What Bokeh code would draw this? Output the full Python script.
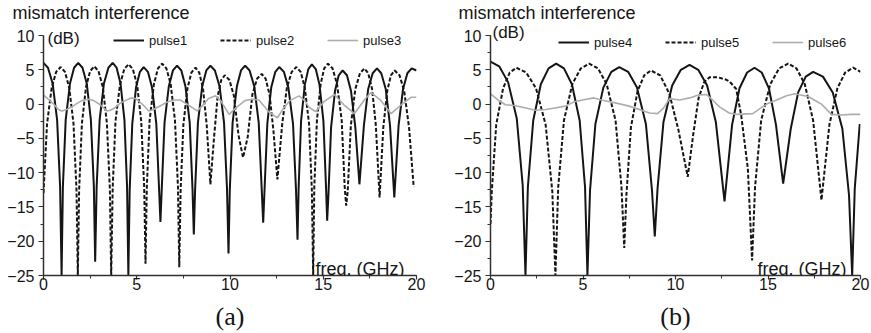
from bokeh.plotting import figure
from bokeh.models import Range1d, SingleIntervalTicker, Label, Legend, LegendItem
from bokeh.layouts import row
from bokeh.embed import file_html
from bokeh.resources import INLINE

# ---------------- data ----------------
PANEL_A_NAMES = ["pulse1", "pulse2", "pulse3"]
PANEL_B_NAMES = ["pulse4", "pulse5", "pulse6"]
X_TICKS = [0, 5, 10, 15, 20]
Y_TICKS = [-25, -20, -15, -10, -5, 0, 5, 10]

# panel (a) pulse1 (solid)
P1_X = [0.00, 0.24, 0.49, 0.73, 0.89, 0.97,
        1.04, 1.19, 1.42, 1.64, 1.86, 2.09, 2.32, 2.54, 2.70, 2.77,
        2.85, 3.01, 3.24, 3.48, 3.71, 3.92, 4.13, 4.34, 4.48, 4.55,
        4.62, 4.76, 4.96, 5.17, 5.37, 5.60, 5.82, 6.05, 6.20, 6.27,
        6.34, 6.49, 6.72, 6.94, 7.16, 7.39, 7.61, 7.84, 7.99, 8.06,
        8.13, 8.28, 8.51, 8.73, 8.95, 9.19, 9.44, 9.68, 9.84, 9.92,
        9.99, 10.14, 10.37, 10.59, 10.81, 11.05, 11.30, 11.54, 11.70, 11.78,
        11.85, 12.00, 12.21, 12.43, 12.64, 12.89, 13.13, 13.38, 13.54, 13.62,
        13.68, 13.81, 14.01, 14.20, 14.39, 14.60, 14.80, 15.01, 15.15, 15.21,
        15.28, 15.42, 15.63, 15.83, 16.04, 16.27, 16.49, 16.72, 16.94,
        17.18, 17.41, 17.65, 17.88, 18.11, 18.35, 18.58, 18.81,
        19.04, 19.28, 19.51, 19.74, 20.00]
P1_Y = [6.0, 5.3, 3.0, -2.3, -12.0, -25,
        -12.0, -2.3, 3.0, 5.3, 6.0, 5.3, 3.0, -2.3, -12.0, -23.0,
        -12.0, -2.3, 3.0, 5.3, 6.0, 5.3, 3.0, -2.3, -12.0, -25,
        -12.6, -2.9, 2.4, 4.7, 5.4, 4.7, 2.4, -2.9, -12.6, -17.2,
        -12.4, -2.7, 2.6, 4.9, 5.6, 4.9, 2.6, -2.7, -12.4, -19.0,
        -12.4, -2.7, 2.6, 4.9, 5.6, 4.9, 2.6, -2.7, -12.4, -21.8,
        -12.4, -2.7, 2.6, 4.9, 5.6, 4.9, 2.6, -2.7, -12.4, -17.3,
        -12.6, -2.9, 2.4, 4.7, 5.4, 4.7, 2.4, -2.9, -12.6, -19.8,
        -12.2, -2.5, 2.8, 5.1, 5.8, 5.1, 2.8, -2.5, -12.2, -17.0,
        -13.1, -3.4, 1.9, 4.2, 4.9, 4.2, 1.9, -3.4, -11.7,
        -3.1, 2.2, 4.5, 5.2, 4.5, 2.2, -3.1, -13.6,
        -3.1, 2.2, 4.5, 5.2, 4.9]

# panel (a) pulse2 (dashed)
P2_X = [0.00, 0.19, 0.44, 0.68, 0.92, 1.15, 1.38, 1.61, 1.77, 1.84,
        1.91, 2.06, 2.28, 2.50, 2.72, 2.95, 3.18, 3.40, 3.56, 3.63,
        3.71, 3.86, 4.10, 4.33, 4.56, 4.79, 5.02, 5.24, 5.40, 5.47,
        5.54, 5.69, 5.92, 6.14, 6.36, 6.59, 6.82, 7.05, 7.21, 7.28,
        7.35, 7.50, 7.72, 7.93, 8.15, 8.35, 8.55, 8.75, 8.95,
        9.14, 9.34, 9.53, 9.72, 9.97, 10.21, 10.46, 10.70,
        10.95, 11.20, 11.45, 11.70, 11.91, 12.12, 12.33, 12.54,
        12.80, 13.05, 13.31, 13.56, 13.79, 14.01, 14.24, 14.39, 14.46,
        14.52, 14.66, 14.86, 15.05, 15.25, 15.50, 15.74, 15.99, 16.15, 16.23,
        16.31, 16.48, 16.72, 16.97, 17.21, 17.41, 17.62, 17.82, 18.02,
        18.22, 18.43, 18.63, 18.83, 19.09, 19.34, 19.60, 19.85]
P2_Y = [-13.0, -2.9, 2.4, 4.7, 5.4, 4.7, 2.4, -2.9, -12.6, -25,
        -12.5, -2.8, 2.5, 4.8, 5.5, 4.8, 2.5, -2.8, -12.5, -25,
        -12.2, -2.5, 2.8, 5.1, 5.8, 5.1, 2.8, -2.5, -12.2, -23.3,
        -12.1, -2.4, 2.9, 5.2, 5.9, 5.2, 2.9, -2.4, -12.1, -23.8,
        -12.7, -3.0, 2.3, 4.6, 5.3, 4.6, 2.3, -3.0, -11.7,
        -5.0, 1.2, 3.5, 4.2, 3.5, 1.2, -4.6, -7.8,
        -4.8, 1.4, 3.7, 4.4, 3.7, 1.4, -3.9, -11.0,
        -2.9, 2.4, 4.7, 5.4, 4.7, 2.4, -2.9, -12.6, -25,
        -12.1, -2.4, 2.9, 5.2, 5.9, 5.2, 2.9, -2.4, -12.1, -14.8,
        -12.8, -3.1, 2.2, 4.5, 5.2, 4.5, 2.2, -3.1, -13.6,
        -3.4, 1.9, 4.2, 4.9, 4.2, 1.9, -3.4, -12.1]

# panel (a) pulse3 (grey)
P3_X = [0.0, 0.3, 0.54, 0.8, 0.98, 1.25, 1.52, 1.8, 2.05, 2.4, 2.7, 3.04, 3.4, 3.6,
        3.85, 4.1, 4.38, 4.7, 4.95, 5.3, 5.64, 5.9, 6.3, 6.63, 7.0, 7.34, 7.8, 8.24,
        8.5, 8.85, 9.22, 9.5, 9.95, 10.3, 10.8, 11.2, 11.55, 12.1, 12.54, 12.85, 13.2,
        13.7, 14.0, 14.25, 14.6, 15.06, 15.6, 16.14, 16.67, 17.2, 17.56, 18.1, 18.64,
        19.18, 19.72, 20.0]
P3_Y = [1.3, 0.6, 0.0, -0.8, -1.0, -0.8, -0.4, 0.1, 0.5, 0.7, 0.5, -0.1, -1.0, -0.9,
        -0.5, 0.1, 0.5, 0.9, 0.8, 0.0, -1.0, -0.8, -0.2, 0.3, 0.6, 0.6, -0.2, -1.0,
        -0.3, 0.8, 1.2, 0.5, -1.5, -0.6, 0.5, 0.7, 0.6, -1.2, -2.0, -0.7, 0.5,
        1.2, 0.5, -0.5, -1.1, 0.4, 1.4, -0.2, -1.4, 0.6, 1.7, 0.5, -1.4,
        -0.1, 1.0, 1.0]

# panel (b) pulse4 (solid)
P4_X = [0.00, 0.47, 0.95, 1.42, 1.74, 1.89,
        2.02, 2.31, 2.72, 3.14, 3.55, 3.97, 4.40, 4.82, 5.11, 5.24,
        5.38, 5.67, 6.10, 6.53, 6.96, 7.44, 7.92, 8.40, 8.73, 8.88,
        9.03, 9.35, 9.82, 10.29, 10.76, 11.23, 11.71, 12.18, 12.65,
        13.06, 13.46, 13.87, 14.27, 14.66, 15.05, 15.43, 15.82,
        16.23, 16.63, 17.04, 17.44, 17.97, 18.50, 19.02, 19.38, 19.55,
        19.69, 19.96]
P4_Y = [6.2, 5.5, 3.2, -2.1, -11.8, -25,
        -12.1, -2.4, 2.9, 5.2, 5.9, 5.2, 2.9, -2.4, -12.1, -25,
        -12.6, -2.9, 2.4, 4.7, 5.4, 4.7, 2.4, -2.9, -12.6, -19.3,
        -12.3, -2.6, 2.7, 5.0, 5.7, 5.0, 2.7, -2.6, -14.2,
        -3.0, 2.3, 4.6, 5.3, 4.6, 2.3, -3.0, -11.6,
        -3.6, 1.7, 4.0, 4.7, 4.0, 1.7, -3.6, -13.3, -25,
        -12.3, -2.9]

# panel (b) pulse5 (dashed)
P5_X = [0.00, 0.07, 0.31, 0.68, 1.04, 1.40, 1.93, 2.46, 2.98, 3.34, 3.51,
        3.66, 3.97, 4.42, 4.88, 5.33, 5.81, 6.28, 6.76, 7.08, 7.23,
        7.35, 7.59, 7.95, 8.31, 8.67, 9.17, 9.67, 10.16, 10.66,
        10.96, 11.25, 11.55, 11.84, 12.30, 12.70, 12.92, 13.28, 13.55, 13.91, 14.14,
        14.30, 14.63, 15.12, 15.60, 16.09, 16.54, 16.99, 17.44, 17.89,
        18.32, 18.75, 19.17, 19.60, 20.00]
P5_Y = [-17.5, -12.7, -3.0, 2.3, 4.6, 5.3, 4.6, 2.3, -3.0, -12.7, -25,
        -12.1, -2.4, 2.9, 5.2, 5.9, 5.2, 2.9, -2.4, -12.1, -21.0,
        -13.1, -3.4, 1.9, 4.2, 4.9, 4.2, 1.5, -3.8, -10.6,
        -4.4, 0.9, 3.2, 3.9, 3.9, 3.6, 3.3, 2.2, -1.6, -9.4, -22.8,
        -12.1, -2.4, 2.9, 5.2, 5.9, 5.2, 2.9, -2.4, -14.0,
        -3.0, 2.3, 4.6, 5.3, 4.7]

# panel (b) pulse6 (grey)
P6_X = [0.0, 0.4, 0.81, 1.26, 1.8, 2.4, 3.0, 3.4, 4.05, 4.5, 4.95, 5.6, 6.0, 6.5,
        6.86, 7.5, 7.95, 8.6, 9.03, 9.35, 9.68, 10.22, 10.76, 11.2, 11.66, 12.0,
        12.38, 12.9, 13.28, 14.18, 14.6, 15.0, 15.37, 16.0, 16.45, 17.17, 17.5,
        17.89, 18.43, 18.97, 19.5, 20.0]
P6_Y = [1.5, 0.6, -0.1, -0.2, -0.5, -0.9, -0.8, -0.6, -0.3, 0.3, 0.6, 0.9, 0.6, 0.3,
        0.1, -0.3, -0.7, -1.3, -1.4, -0.6, 0.8, 0.6, 0.9, 1.3, 1.4, 0.6,
        -0.4, -1.3, -1.5, -1.4, -0.6, 0.1, 0.5, 1.2, 1.5, 1.1, 0.6,
        0.0, -1.5, -1.6, -1.5, -1.5]

# ---------------- styling ----------------
SANS = "Liberation Sans"
SERIF = "Liberation Serif"
INK = "#151515"
GREY = "#adadad"
FRAME_TOP = 22          # frame reaches a little above the "10" tick
FRAME_H = 275 - FRAME_TOP
Y_TOP = 10 + (35 - FRAME_TOP) * 35.0 / 240.0   # extra room above the axis end


def add_text(p, text, x, y, font, size, align="left"):
    p.add_layout(Label(x=x, y=y, x_units="screen", y_units="screen", text=text,
                       text_font=font, text_font_size=size, text_align=align,
                       text_baseline="alphabetic", text_color=INK))


def make_panel(names, series, tag, border_left, frame_w, border_right,
               title_dx, db_xy, freq_dx, legend_loc):
    p = figure(frame_width=frame_w, frame_height=FRAME_H,
               min_border_left=border_left, min_border_right=border_right,
               min_border_top=FRAME_TOP, min_border_bottom=58,
               x_range=Range1d(0, 20), y_range=Range1d(-25, Y_TOP),
               output_backend="svg", toolbar_location=None,
               background_fill_color="white", border_fill_color="white")
    p.grid.visible = False
    p.outline_line_color = None

    p.title.text = "mismatch interference"
    p.title.text_font = SANS
    p.title.text_font_size = "18px"
    p.title.text_font_style = "normal"
    p.title.text_color = INK
    p.title.align = "left"
    p.title.offset = title_dx
    p.title.standoff = 0

    for ax in (p.xaxis[0], p.yaxis[0]):
        ax.ticker = SingleIntervalTicker(interval=5, num_minor_ticks=2)
        ax.axis_line_color = "#303030"
        ax.axis_line_width = 1.5
        ax.major_tick_line_color = "#303030"
        ax.minor_tick_line_color = "#303030"
        ax.major_tick_line_width = 1.2
        ax.major_tick_in = 0
        ax.minor_tick_in = 0
        ax.major_label_text_font = SANS
        ax.major_label_text_font_size = "16px"
        ax.major_label_text_color = INK
    p.yaxis[0].bounds = (-25, 10)
    p.xaxis[0].bounds = (0, 20)
    p.xaxis[0].major_tick_out = 4
    p.xaxis[0].minor_tick_out = 3
    p.xaxis[0].major_label_standoff = -2
    p.yaxis[0].major_tick_out = 5
    p.yaxis[0].minor_tick_out = 3
    p.yaxis[0].major_label_standoff = 4

    p.xaxis[0].axis_label = tag
    p.xaxis[0].axis_label_text_font = SERIF
    p.xaxis[0].axis_label_text_font_size = "26px"
    p.xaxis[0].axis_label_text_font_style = "normal"
    p.xaxis[0].axis_label_text_color = INK
    p.xaxis[0].axis_label_standoff = 9

    styles = [dict(line_color=INK, line_width=2.0),
              dict(line_color=INK, line_width=2.0, line_dash="4 2"),
              dict(line_color=GREY, line_width=1.6)]
    rends = []
    for (xs, ys), st in zip(series, styles):
        rends.append(p.line(xs, ys, **st))

    legend = Legend(items=[LegendItem(label=n, renderers=[r]) for n, r in zip(names, rends)],
                    location=legend_loc, orientation="horizontal",
                    glyph_width=31, glyph_height=16, label_height=16, label_width=61,
                    label_standoff=5, spacing=10, padding=0, margin=0,
                    border_line_color=None, background_fill_alpha=0,
                    label_text_font=SANS, label_text_font_size="13px",
                    label_text_color=INK)
    p.add_layout(legend)

    add_text(p, "(dB)", db_xy[0], db_xy[1], SANS, "17px")
    add_text(p, "freq. (GHz)", freq_dx, 7, SANS, "18px")
    return p


pa = make_panel(PANEL_A_NAMES, [(P1_X, P1_Y), (P2_X, P2_Y), (P3_X, P3_Y)], "(a)",
                43, 373, 19, -31, (4, 237), 272, (70, 227))
pb = make_panel(PANEL_B_NAMES, [(P4_X, P4_Y), (P5_X, P5_Y), (P6_X, P6_Y)], "(b)",
                55, 370, 11, -32, (2, 243), 267, (68, 225))

layout = row(pa, pb)
open("out.html", "w").write(file_html(layout, INLINE))
